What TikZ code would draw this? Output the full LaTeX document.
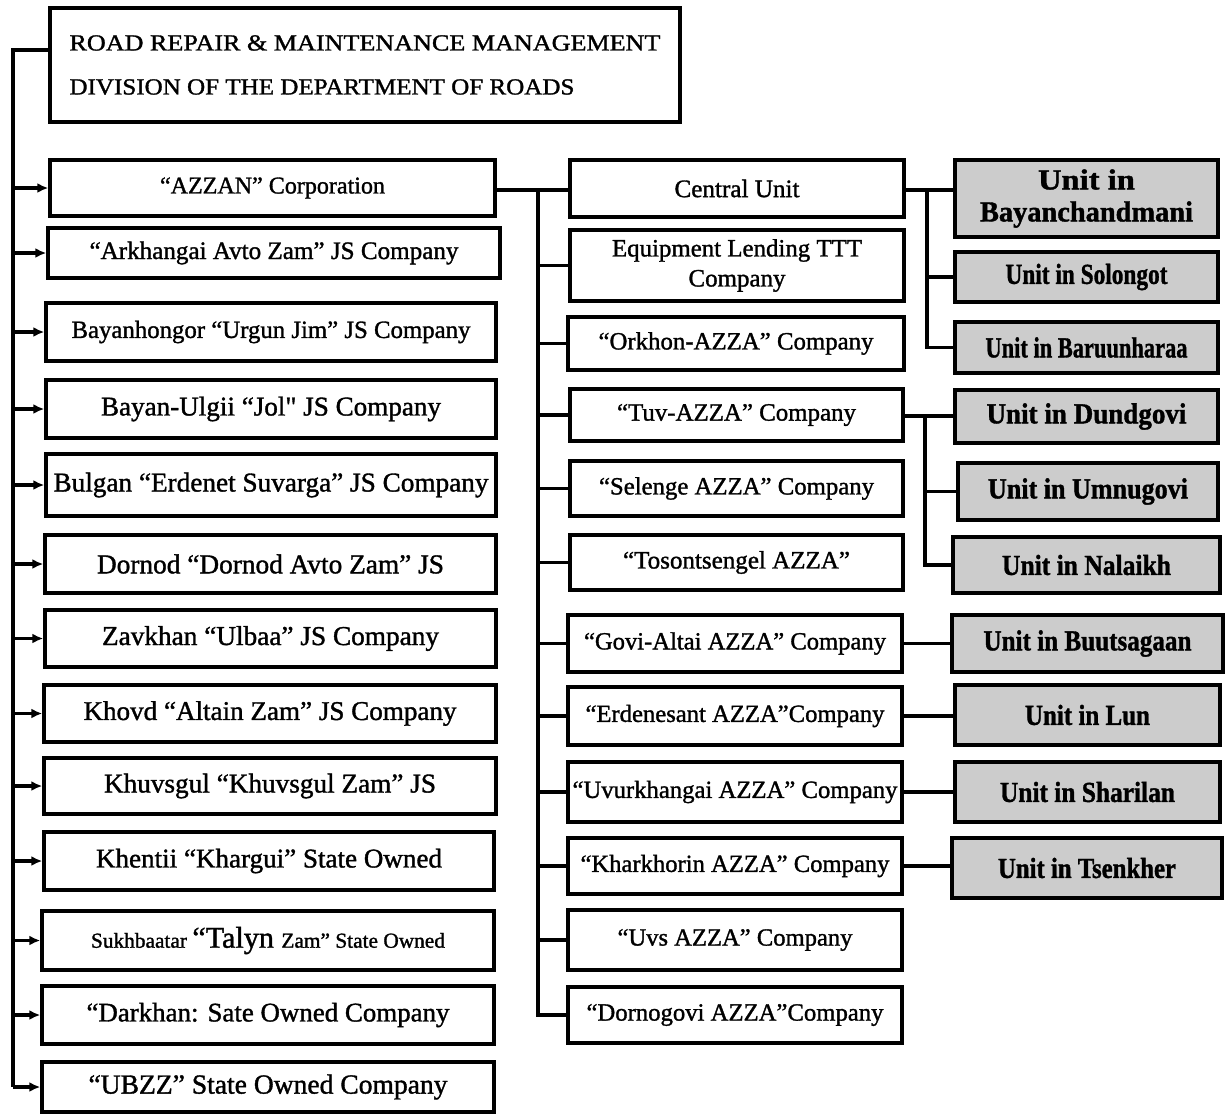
\documentclass[tikz,border=0pt]{standalone}
\usepackage{fontspec}
\setmainfont{Liberation Serif}[FakeBold=1.3]
\usepackage{graphicx}
\usetikzlibrary{arrows.meta}

\newcommand{\uw}[2]{\resizebox{#1pt}{!}{#2}}
\newcommand{\hw}[2]{\resizebox{#1pt}{\height}{#2}}
\newcommand{\sq}{{\addfontfeatures{Ligatures=TeXOff}"}}
\newcommand{\bx}[7]{\node[#1, minimum width={(#5-#3)*1pt}, minimum height={(#6-#4)*1pt}] (#2) at ({(#3+#5)/2},{(#4+#6)/2}) {#7};}

\tikzset{
  box/.style={draw, line width=3.4pt, inner sep=0pt, align=center, font=\fontsize{24}{30}\selectfont},
  unitbox/.style={box, line width=4.6pt, fill=black!20, font=\fontsize{29}{32}\selectfont\bfseries},
  conn/.style={line width=3.4pt},
  arr/.style={conn, -{Latex[length=11pt,width=10pt]}}
}

\begin{document}
\begin{tikzpicture}[x=1pt,y=-1pt]
\useasboundingbox (0,0) rectangle (1229,1114);

% title
\bx{box, align=left, font=\fontsize{23}{44}\selectfont}{top}{50}{8}{680}{122}{\hw{591}{ROAD REPAIR \& MAINTENANCE MANAGEMENT}\\\hw{505}{DIVISION OF THE DEPARTMENT OF ROADS}}

% left column
\bx{box}{azzan}{50}{160}{495}{216}{\uw{225}{“AZZAN” Corporation}}
\bx{box}{arkh}{48}{228}{500}{278}{\uw{369}{“Arkhangai Avto Zam” JS Company}}
\bx{box}{bayh}{46}{303}{496}{361}{\uw{399}{Bayanhongor “Urgun Jim” JS Company}}
\bx{box}{bayu}{46}{380}{496}{438}{\uw{340}{Bayan-Ulgii “Jol\sq{} JS Company}}
\bx{box}{bulg}{46}{454}{496}{516}{\uw{435}{Bulgan “Erdenet Suvarga” JS Company}}
\bx{box}{dorn}{45}{535}{496}{593}{\uw{347}{Dornod “Dornod Avto Zam” JS}}
\bx{box}{zavk}{45}{610}{496}{667}{\uw{337}{Zavkhan “Ulbaa” JS Company}}
\bx{box}{khov}{44}{685}{496}{742}{\uw{373}{Khovd “Altain Zam” JS Company}}
\bx{box}{khuv}{44}{758}{496}{814}{\uw{332}{Khuvsgul “Khuvsgul Zam” JS}}
\bx{box}{khen}{44}{832}{494}{890}{\uw{346}{Khentii “Khargui” State Owned}}
\bx{box}{sukh}{42}{911}{494}{970}{\uw{354}{{\fontsize{17}{20}\selectfont Sukhbaatar }{\fontsize{24}{28}\selectfont “Talyn }{\fontsize{17}{20}\selectfont Zam” State Owned}}}
\bx{box}{dark}{42}{986}{494}{1044}{\uw{363}{“Darkhan: Sate Owned Company}}
\bx{box}{ubzz}{42}{1062}{494}{1112}{\uw{359}{“UBZZ” State Owned Company}}

% middle column
\bx{box}{cent}{570}{160}{904}{217}{\uw{125}{Central Unit}}
\bx{box}{equi}{570}{230}{904}{301}{\uw{250}{Equipment Lending TTT}\\\uw{97}{Company}}
\bx{box}{orkh}{568}{317}{904}{370}{\uw{275}{“Orkhon-AZZA” Company}}
\bx{box}{tuv}{570}{389}{903}{441}{\uw{239}{“Tuv-AZZA” Company}}
\bx{box}{sele}{570}{461}{903}{516}{\uw{275}{“Selenge AZZA” Company}}
\bx{box}{toso}{570}{535}{903}{590}{\uw{227}{“Tosontsengel AZZA”}}
\bx{box}{govi}{568}{615}{902}{672}{\uw{302}{“Govi-Altai AZZA” Company}}
\bx{box}{erde}{568}{687}{902}{745}{\uw{299}{“Erdenesant AZZA”Company}}
\bx{box}{uvur}{568}{762}{902}{822}{\uw{325}{“Uvurkhangai AZZA” Company}}
\bx{box}{khar}{568}{838}{902}{894}{\uw{309}{“Kharkhorin AZZA” Company}}
\bx{box}{uvs}{568}{910}{902}{970}{\uw{235}{“Uvs AZZA” Company}}
\bx{box}{dnog}{568}{987}{902}{1043}{\uw{297}{“Dornogovi AZZA”Company}}

% units
\bx{unitbox}{ua}{955}{160}{1218}{237}{\hw{97}{Unit in}\\\hw{213}{Bayanchandmani}}
\bx{unitbox}{ub}{955}{252}{1218}{302}{\hw{162}{Unit in Solongot}}
\bx{unitbox}{uc}{955}{322}{1218}{373}{\hw{202}{Unit in Baruunharaa}}
\bx{unitbox}{ud}{955}{390}{1218}{443}{\hw{200}{Unit in Dundgovi}}
\bx{unitbox}{ue}{958}{463}{1218}{520}{\hw{200}{Unit in Umnugovi}}
\bx{unitbox}{uf}{953}{537}{1220}{593}{\hw{169}{Unit in Nalaikh}}
\bx{unitbox}{ug}{952}{615}{1223}{672}{\hw{208}{Unit in Buutsagaan}}
\bx{unitbox}{uh}{955}{685}{1220}{745}{\hw{125}{Unit in Lun}}
\bx{unitbox}{ui}{955}{762}{1220}{822}{\hw{175}{Unit in Sharilan}}
\bx{unitbox}{uj}{952}{838}{1222}{898}{\hw{178}{Unit in Tsenkher}}

% left trunk
\coordinate (tj) at (13,50);
\draw[conn] (top.west |- tj) -- (tj) -- (tj |- ubzz.west);
\foreach \n in {azzan,arkh,bayh,bayu,bulg,dorn,zavk,khov,khuv,khen,sukh,dark,ubzz}
  \draw[arr] (tj |- \n.west) -- (\n.west);

% middle trunk
\coordinate (mj) at (538,190);
\draw[conn] (azzan.east |- mj) -- (cent.west |- mj);
\draw[conn] (mj) -- (mj |- dnog.west) -- (dnog.west);
\foreach \n in {equi,orkh,tuv,sele,toso,govi,erde,uvur,khar,uvs}
  \draw[conn] (mj |- \n.west) -- (\n.west);

% central unit branch
\coordinate (ra) at (927,190);
\draw[conn] (cent.east |- ra) -- (ua.west |- ra);
\draw[conn] (ra) -- (ra |- uc.west) -- (uc.west);
\draw[conn] (ra |- ub.west) -- (ub.west);

% tuv branch
\coordinate (rb) at (925,416);
\draw[conn] (tuv.east |- rb) -- (ud.west |- rb);
\draw[conn] (rb) -- (rb |- uf.west) -- (uf.west);
\draw[conn] (rb |- ue.west) -- (ue.west);

% single links
\draw[conn] (govi.east) -- (govi.east -| ug.west);
\draw[conn] (erde.east) -- (erde.east -| uh.west);
\draw[conn] (uvur.east) -- (uvur.east -| ui.west);
\draw[conn] (khar.east) -- (khar.east -| uj.west);
\end{tikzpicture}
\end{document}
